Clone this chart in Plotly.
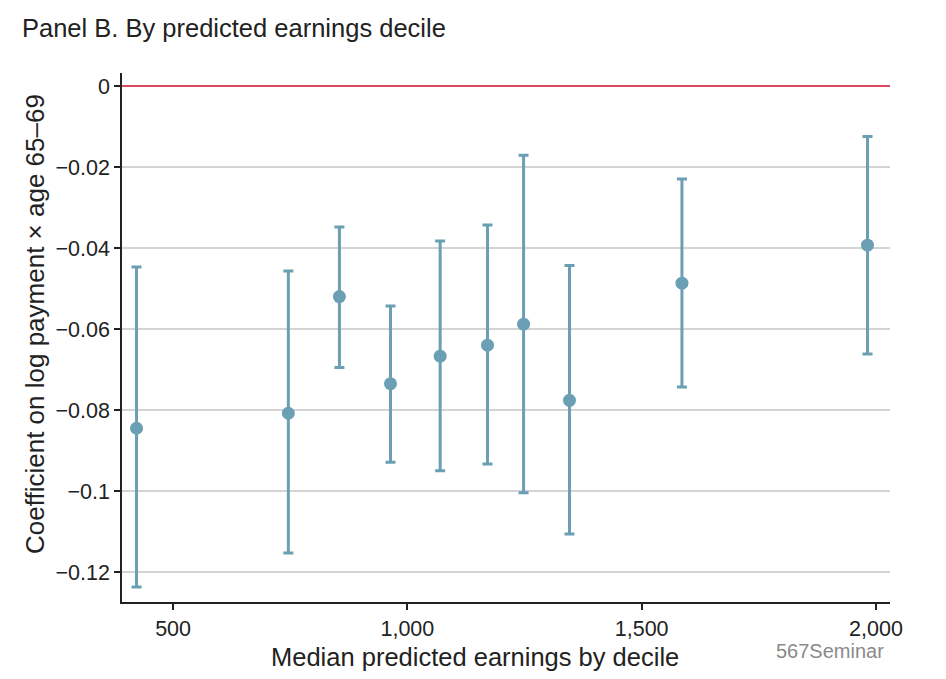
import plotly.graph_objects as go

# Data
median_earnings = [422, 746, 855, 964, 1070, 1171, 1248, 1346, 1586, 1982]
coef = [-0.0844, -0.0807, -0.0519, -0.0734, -0.0666, -0.0639, -0.0587, -0.0775, -0.0486, -0.0392]
ci_upper = [-0.0446, -0.0456, -0.0347, -0.0542, -0.0382, -0.0342, -0.0170, -0.0442, -0.0229, -0.0124]
ci_lower = [-0.1236, -0.1152, -0.0694, -0.0928, -0.0949, -0.0932, -0.1003, -0.1105, -0.0742, -0.0661]

y_tickvals = [0, -0.02, -0.04, -0.06, -0.08, -0.1, -0.12]
y_ticktext = ["0", "\u22120.02", "\u22120.04", "\u22120.06", "\u22120.08", "\u22120.1", "\u22120.12"]
x_tickvals = [500, 1000, 1500, 2000]
x_ticktext = ["500", "1,000", "1,500", "2,000"]

err_plus = [u - c for u, c in zip(ci_upper, coef)]
err_minus = [c - l for c, l in zip(coef, ci_lower)]

color = "#6b9fb4"
font_family = "Liberation Sans, Arial, sans-serif"
text_color = "#222222"

fig = go.Figure()
fig.add_trace(go.Scatter(
    x=median_earnings, y=coef, mode="markers",
    marker=dict(color=color, size=13),
    error_y=dict(type="data", symmetric=False, array=err_plus, arrayminus=err_minus,
                 color=color, thickness=3, width=5),
    showlegend=False,
))

fig.update_layout(
    width=946, height=679,
    margin=dict(l=114, r=64, t=65, b=85),
    paper_bgcolor="white", plot_bgcolor="white",
    font=dict(family=font_family, color=text_color, size=21),
    title=dict(text="Panel B. By predicted earnings decile", x=14 / 946, xanchor="left",
               y=0.9705, yanchor="middle", font=dict(size=25.5, color=text_color)),
)
fig.update_xaxes(
    range=[391, 2030], tickvals=x_tickvals, ticktext=x_ticktext,
    showgrid=False, zeroline=False, showline=True, linecolor=text_color, linewidth=1.5,
    ticks="outside", ticklen=6, tickcolor=text_color, tickwidth=1.5,
    tickfont=dict(size=21.5),
)
fig.update_yaxes(
    range=[-0.1273, 0.0033], tickvals=y_tickvals, ticktext=y_ticktext,
    showgrid=True, gridcolor="#d4d4d4", gridwidth=1.5,
    zeroline=True, zerolinecolor="#d9485d", zerolinewidth=2,
    showline=True, linecolor=text_color, linewidth=1.5,
    ticks="outside", ticklen=6, tickcolor=text_color, tickwidth=1.5,
    tickfont=dict(size=21.5),
)
# axis titles
fig.add_annotation(
    text="Median predicted earnings by decile", xref="paper", yref="paper",
    x=0.4596, y=-0.104, xanchor="center", yanchor="middle", showarrow=False,
    font=dict(size=25.5, color=text_color, family=font_family),
)
fig.add_annotation(
    text="Coefficient on log payment \u00d7 age 65\u201369", xref="paper", yref="paper",
    x=-0.1133, y=0.5255, xanchor="center", yanchor="middle", textangle=-90, showarrow=False,
    font=dict(size=26, color=text_color, family=font_family),
)
# watermark
fig.add_annotation(
    text="567Seminar", xref="paper", yref="paper", x=0.9935, y=-0.0705,
    xanchor="right", yanchor="top", showarrow=False, borderpad=0,
    font=dict(size=20, color="#8a8a8a", family=font_family),
)

fig.write_html("out.html")
